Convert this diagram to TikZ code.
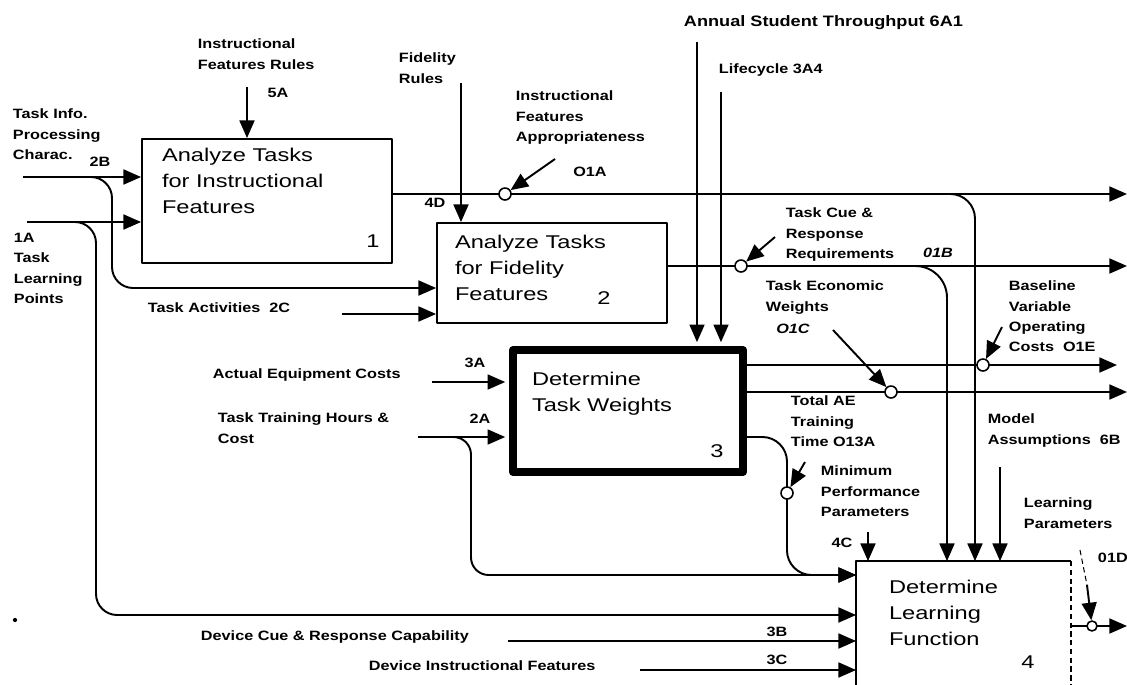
\documentclass[tikz,border=0pt]{standalone}
\usepackage{fontspec}
\setmainfont{Liberation Sans}[FakeStretch=1.2]
\newfontfamily\ttlfont{Liberation Sans}[FakeStretch=1.28]
\usetikzlibrary{arrows.meta}
\tikzset{
  arr/.style={-{Triangle[length=10pt,width=8.5pt]}},
  fbox/.style={draw, inner sep=0pt},
  ttl/.style={anchor=north west, inner sep=0pt, align=left, font=\ttlfont\fontsize{10.5}{14.7}\selectfont},
  num/.style={inner sep=0pt, font=\ttlfont\fontsize{10.5}{13}\selectfont},
  lbl/.style={inner sep=0pt, align=left, font=\bfseries\fontsize{7.7}{11.6}\selectfont},
  itl/.style={lbl, font=\bfseries\itshape\fontsize{7.7}{11.6}\selectfont},
  tunnel/.style={circle, draw, fill=white, line width=0.9pt, minimum size=0.24cm, inner sep=0pt},
}
\begin{document}
\begin{tikzpicture}[x=0.02cm, y=-0.02cm, line width=1.1pt, line join=round]
\clip (0,0) rectangle (1127,684);

% activity boxes
\node[fbox, minimum width=5cm, minimum height=2.48cm] (b1) at (267,201) {};
\node[fbox, minimum width=4.6cm, minimum height=2cm] (b2) at (552,273) {};
\node[fbox, line width=4.5pt, minimum width=4.6cm, minimum height=2.44cm] (b3) at (628,411) {};
\node[minimum width=4.26cm, minimum height=3.16cm, inner sep=0pt] (b4) at (963.5,641) {};
\draw (b4.south west) -- (b4.north west) -- (b4.north east);
\draw[densely dashed, line width=0.8pt] (b4.north east) -- (b4.south east);

\node[ttl] (t1) at ([shift={(20,9)}]b1.north west) {Analyze Tasks\\for Instructional\\Features};
\node[ttl] (t2) at ([shift={(18,12)}]b2.north west) {Analyze Tasks\\for Fidelity\\Features};
\node[ttl] (t3) at ([shift={(22,25)}]b3.north west) {Determine\\Task Weights};
\node[ttl] (t4) at ([shift={(32,18)}]b4.north west) {Determine\\Learning\\Function};
\node[num] (n1) at ([shift={(-20,-23)}]b1.south east) {1};
\node[num] (n2) at ([shift={(-64,-26)}]b2.south east) {2};
\node[num] (n3) at ([shift={(-30,-25)}]b3.south east) {3};
\node[num] (n4) at (1028,662) {4};

% free ends
\coordinate (i5A) at (247,87);
\coordinate (i2B) at (23,177);
\coordinate (i1A) at (27,222);
\coordinate (iFR) at (461,83);
\coordinate (i2C) at (342,314);
\coordinate (iAS) at (697,42);
\coordinate (iLC) at (721,92);
\coordinate (i3A) at (432,382);
\coordinate (i2A) at (418,437);
\coordinate (i4C) at (868,532);
\coordinate (i6B) at (1000,467);
\coordinate (i3B) at (508,641);
\coordinate (i3C) at (640,670);
\coordinate (o1) at (1127,194);
\coordinate (o2) at (1127,266);
\coordinate (o3) at (1117,365);
\coordinate (o4) at (1127,392);
\coordinate (o5) at (1127,626);

% inputs and controls
\draw[arr] (i5A) -- (i5A |- b1.north);
\draw[arr] (i2B) -- (i2B -| b1.west);
\draw[arr] (i1A) -- (i1A -| b1.west);
\draw[arr, rounded corners=12pt] (60,177) -- (112,177) -- (112,288) -- (b2.west |- 0,288);
\draw[arr, rounded corners=12pt] (60,222) -- (96,222) -- (96,615) -- (b4.west |- 0,615);
\draw[arr] (i2C) -- (i2C -| b2.west);
\draw[arr] (iFR) -- (iFR |- b2.north);
\draw[arr, shorten >=2.2pt] (iAS) -- (iAS |- b3.north);
\draw[arr, shorten >=2.2pt] (iLC) -- (iLC |- b3.north);
\draw[arr, shorten >=2.2pt] (i3A) -- (i3A -| b3.west);
\draw[arr, shorten >=2.2pt] (i2A) -- (i2A -| b3.west);
\draw[arr, rounded corners=10pt] (440,437) -- (471,437) -- (471,575) -- (b4.west |- 0,575);
\draw[arr] (i4C) -- (i4C |- b4.north);
\draw[arr] (i6B) -- (i6B |- b4.north);
\draw[arr] (i3B) -- (i3B -| b4.west);
\draw[arr] (i3C) -- (i3C -| b4.west);

% outputs
\draw[arr] (o1 -| b1.east) -- (o1);
\draw[arr] (o2 -| b2.east) -- (o2);
\draw[arr] (o3 -| b3.east) -- (o3);
\draw[arr] (o4 -| b3.east) -- (o4);
\draw[arr] (o5 -| b4.east) -- (o5);
\draw[arr, rounded corners=14pt] (b3.east |- 0,437) -- (787,437) -- (787,575) -- (b4.west |- 0,575);
\draw[arr, rounded corners=18pt] (880,266) -- (947,266) -- (b4.north -| 947,0);
\draw[arr, rounded corners=14pt] (930,194) -- (975,194) -- (b4.north -| 975,0);

% tunnels
\node[tunnel] (k1) at (505,194) {};
\node[tunnel] (k2) at (741,266) {};
\node[tunnel] (k4) at (891,392) {};
\node[tunnel] (k5) at (983,365) {};
\node[tunnel] (k6) at (787,493) {};
\node[tunnel, minimum size=0.2cm] (k7) at (1092,626) {};
\draw[arr] (555,159) -- (k1);
\draw[arr] (775,237) -- (k2);
\draw[arr] (833,330) -- (k4);
\draw[arr] (1002,327) -- (k5);
\draw[arr] (805,462) -- (k6);
\draw[densely dashed, line width=0.6pt] (1080,550) -- (1087,585);
\draw[arr] (1087,585) -- (k7);

% labels
\node[lbl, anchor=north west] (l5A) at (197,38) {Instructional\\Features Rules};
\node[lbl] (n5A) at (278,93) {5A};
\node[lbl, anchor=north west] (lTI) at (12,108) {Task Info.\\Processing\\Charac.};
\node[lbl] (n2B) at (100,162) {2B};
\node[lbl, anchor=north west] (lTL) at (13,232) {1A\\Task\\Learning\\Points};
\node[lbl, anchor=north west] (lFR) at (398,52) {Fidelity\\Rules};
\node[lbl, anchor=north west] (lIA) at (515,90) {Instructional\\Features\\Appropriateness};
\node[lbl] (nO1A) at (590,172) {O1A};
\node[lbl] (n4D) at (435,203) {4D};
\node[lbl, anchor=north west, font=\bfseries\fontsize{8.6}{11}\selectfont] (lAS) at (683,15) {Annual Student Throughput 6A1};
\node[lbl, anchor=north west] (lLC) at (718,63) {Lifecycle 3A4};
\node[lbl, anchor=north west] (lTC) at (785,207) {Task Cue \&\\Response\\Requirements};
\node[itl] (n01B) at (938,253) {01B};
\node[lbl, anchor=north west] (lTE) at (765,280) {Task Economic\\Weights};
\node[itl] (nO1C) at (793,329) {O1C};
\node[lbl, anchor=north west] (lBV) at (1008,280) {Baseline\\Variable\\Operating\\Costs~~O1E};
\node[lbl, anchor=north west] (lTA) at (147,302) {Task Activities~~2C};
\node[lbl, anchor=north west] (lAE) at (212,368) {Actual Equipment Costs};
\node[lbl] (n3A) at (475,363) {3A};
\node[lbl, anchor=north west] (lTT) at (217,412) {Task Training Hours \&\\Cost};
\node[lbl] (n2A) at (480,419) {2A};
\node[lbl, anchor=north west] (lTO) at (790,395) {Total AE\\Training\\Time O13A};
\node[lbl, anchor=north west] (lMP) at (820,465) {Minimum\\Performance\\Parameters};
\node[lbl] (n4C) at (842,543) {4C};
\node[lbl, anchor=north west] (lMA) at (987,413) {Model\\Assumptions~~6B};
\node[lbl, anchor=north west] (lLP) at (1023,497) {Learning\\Parameters};
\node[lbl, anchor=north west] (n01D) at (1097,552) {01D};
\node[lbl, anchor=north west] (lDC) at (200,630) {Device Cue \& Response Capability};
\node[lbl] (n3B) at (777,632) {3B};
\node[lbl] (n3C) at (777,660) {3C};
\node[lbl, anchor=north west] (lDI) at (368,660) {Device Instructional Features};
\fill (15,620) circle (1.2pt);
\end{tikzpicture}
\end{document}
